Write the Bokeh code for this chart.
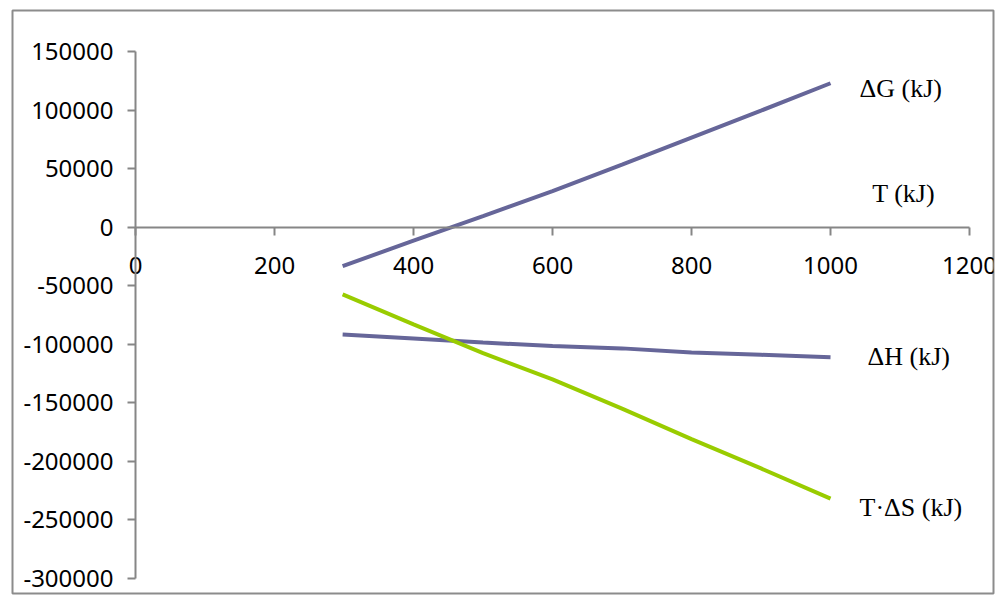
from bokeh.plotting import figure
from bokeh.models import Range1d, FixedTicker, Label
from bokeh.embed import file_html
from bokeh.resources import INLINE

# ---- data ----
T = [298, 400, 500, 600, 700, 800, 900, 1000]
dG = [-33300, -11500, 9500, 30700, 53500, 76500, 99500, 122900]
dH = [-91700, -95000, -98500, -101500, -103500, -107000, -109000, -111000]
TdS = [-57400, -83000, -107500, -130000, -155000, -181000, -206000, -231800]

x_ticks = [0, 200, 400, 600, 800, 1000, 1200]
x_tick_labels = ["0", "200", "400", "600", "800", "1000", "1200"]
y_ticks = [-300000, -250000, -200000, -150000, -100000, -50000, 0, 50000, 100000, 150000]
y_tick_labels = ["-300000", "-250000", "-200000", "-150000", "-100000", "-50000",
                 "0", "50000", "100000", "150000"]

series_names = ["\u0394G (kJ)", "\u0394H (kJ)", "T\u00b7\u0394S (kJ)"]
axis_title = "T (kJ)"

PURPLE = "#666699"
GREEN = "#99cc00"
AXIS = "#868686"

p = figure(width=998, height=598, output_backend="svg", toolbar_location=None,
           x_range=Range1d(-177.0, 1234.5), y_range=Range1d(-312808, 185010),
           min_border_left=12, min_border_right=5, min_border_top=10, min_border_bottom=5)
p.background_fill_color = "white"
p.border_fill_color = "white"
p.outline_line_color = "#8c8c8c"
p.outline_line_width = 2
p.xgrid.visible = False
p.ygrid.visible = False

for ax, ticks, labels, bounds in ((p.xaxis[0], x_ticks, x_tick_labels, (0, 1200)),
                                  (p.yaxis[0], y_ticks, y_tick_labels, (-300000, 150000))):
    ax.fixed_location = 0
    ax.bounds = bounds
    ax.ticker = FixedTicker(ticks=ticks)
    ax.major_label_overrides = {t: l for t, l in zip(ticks, labels)}
    ax.axis_line_color = AXIS
    ax.axis_line_width = 2
    ax.major_tick_line_color = AXIS
    ax.major_tick_line_width = 2
    ax.major_tick_out = 8
    ax.major_tick_in = 0
    ax.minor_tick_line_color = None
    ax.major_label_text_font = "Noto Sans"
    ax.major_label_text_font_size = "24px"
    ax.major_label_text_color = "black"

p.xaxis.major_label_standoff = 22
p.yaxis.major_label_standoff = 14

p.line(T, dG, line_color=PURPLE, line_width=4)
p.line(T, dH, line_color=PURPLE, line_width=4)
p.line(T, TdS, line_color=GREEN, line_width=4)

def lab(text, x, y, xo, yo):
    p.add_layout(Label(x=x, y=y, x_offset=xo, y_offset=yo, text=text,
                       text_font="Liberation Serif", text_font_size="26px",
                       text_color="black", text_align="left", text_baseline="middle"))

lab(series_names[0], T[-1], dG[-1], 29, -5)
lab(series_names[1], T[-1], dH[-1], 37, 1)
lab(series_names[2], T[-1], TdS[-1], 29, -9)
lab(axis_title, 1060, 0, 0, 34)

open("out.html", "w").write(file_html(p, INLINE))
